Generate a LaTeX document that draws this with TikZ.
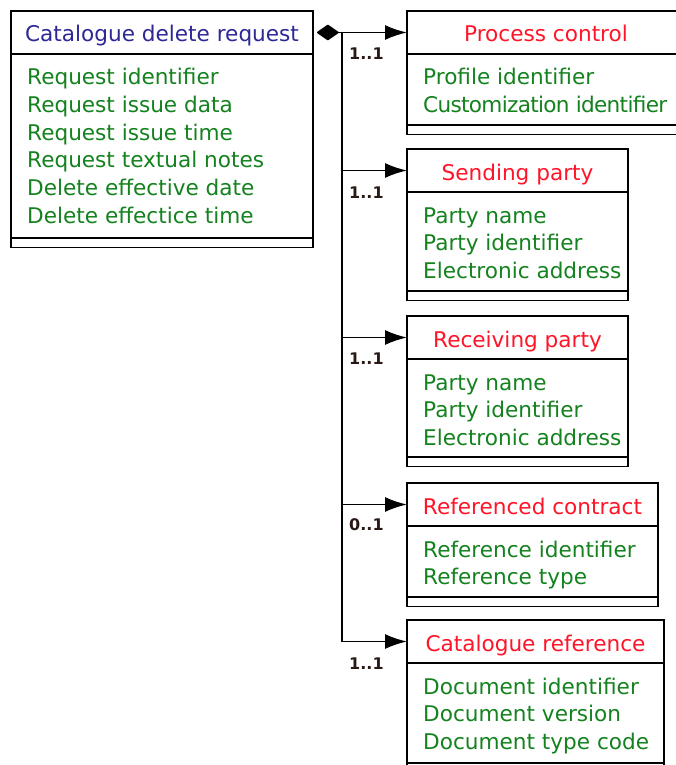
\documentclass[tikz,border=0pt]{standalone}
\usepackage{fontspec}
\setmainfont{DejaVu Sans}
\usetikzlibrary{arrows.meta}

\definecolor{titleblue}{RGB}{45,40,150}
\definecolor{titlered}{RGB}{255,20,40}
\definecolor{attrgreen}{RGB}{20,130,30}
\definecolor{multcol}{RGB}{40,25,20}

\tikzset{
  compartment/.style={draw, line width=1.8pt, inner sep=0pt, outer sep=0pt, anchor=north west},
  hdr/.style={compartment, minimum height=43pt},
  footbox/.style={compartment, minimum height=9.5pt},
  titletext/.style={inner sep=0pt, font=\fontsize{21.6}{27.5}\selectfont},
  attrtext/.style={inner sep=0pt, text=attrgreen, font=\fontsize{21.6}{27.5}\selectfont},
  mult/.style={inner sep=0pt, anchor=base west, text=multcol, font=\fontsize{16}{18}\selectfont\bfseries},
  conn/.style={line width=1.8pt},
  assoc/.style={conn, -{Latex[length=22pt,width=15pt]}}
}

% #1 name, #2 left, #3 top, #4 width, #5 body height, #6 title, #7 attributes, #8 title colour
\newcommand\umlclass[8]{%
  \node[hdr, minimum width=#4] (#1H) at (#2,#3) {};
  \node[compartment, minimum width=#4, minimum height=#5] (#1B) at (#1H.south west) {};
  \node[footbox, minimum width=#4] (#1F) at (#1B.south west) {};
  \node[titletext, text=#8, anchor=base] (#1T) at ([yshift=-31pt]#1H.north) {#6};
  \foreach \attr [count=\i] in {#7}
    \node[attrtext, anchor=base west] (#1A\i)
      at ([xshift=16pt, yshift={-31pt-(\i-1)*27.6pt}]#1B.north west) {\attr};
}

\begin{document}
\begin{tikzpicture}[x=1pt, y=-1pt]
  \fill[white] (0,0) rectangle (675,765);
  \useasboundingbox (0,0) rectangle (675,765);

  \umlclass{main}{11}{11}{302pt}{184pt}{Catalogue delete request}%
    {Request identifier,Request issue data,Request issue time,Request textual notes,Delete effective date,Delete effectice time}{titleblue}
  \umlclass{pc}{407}{11}{278pt}{71pt}{Process control}%
    {Profile identifier,{\addfontfeatures{LetterSpace=-3.2}Customization identifier}}{titlered}
  \umlclass{sp}{407}{149}{221pt}{99pt}{Sending party}%
    {Party name,Party identifier,Electronic address}{titlered}
  \umlclass{rp}{407}{316}{221pt}{98pt}{Receiving party}%
    {Party name,Party identifier,Electronic address}{titlered}
  \umlclass{rc}{407}{483}{251pt}{71pt}{Referenced contract}%
    {Reference identifier,Reference type}{titlered}
  \umlclass{cr}{407}{620}{257pt}{100pt}{Catalogue reference}%
    {Document identifier,Document version,Document type code}{titlered}

  % composition: diamond at the owner, then a shared trunk
  \coordinate (trunk) at (342,32.5);
  \draw[conn, {Diamond[length=23pt,width=16pt,round]}-] ([xshift=4pt]mainH.east) -- (trunk);

  \draw[assoc] (trunk) |- (pcH.west);
  \draw[assoc] (trunk) |- (spH.west);
  \draw[assoc] (trunk) |- (rpH.west);
  \draw[assoc] (trunk) |- (rcH.west);
  \draw[assoc] (trunk) |- (crH.west);

  % multiplicities
  \node[mult] (mpc) at (349,60) {1..1};
  \node[mult] (msp) at (349,198) {1..1};
  \node[mult] (mrp) at (349,364) {1..1};
  \node[mult] (mrc) at (349,530) {0..1};
  \node[mult] (mcr) at (349,669) {1..1};
\end{tikzpicture}
\end{document}
